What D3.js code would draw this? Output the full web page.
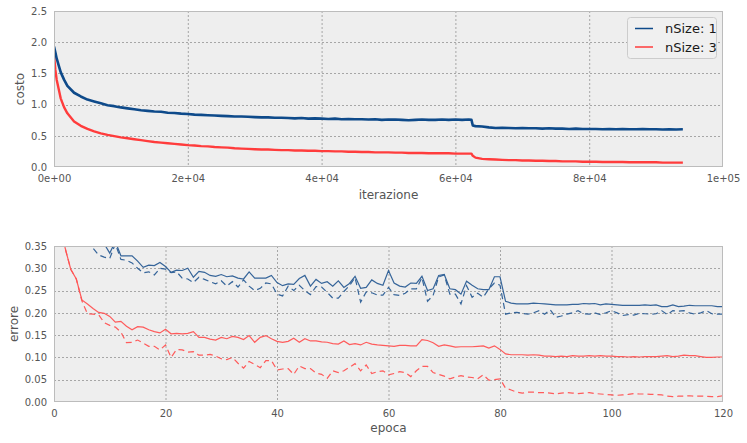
<!DOCTYPE html>
<html><head><meta charset="utf-8">
<script src="https://cdn.jsdelivr.net/npm/d3@7"></script>
<style>body{margin:0;background:#fff}svg{display:block}</style>
</head><body>
<script>
// ---------- DATA ----------
const seriesNames = ["nSize: 1", "nSize: 3"];
const topXTicks = [0, 20000, 40000, 60000, 80000, 100000];
const topXTickLabels = ["0e+00", "2e+04", "4e+04", "6e+04", "8e+04", "1e+05"];
const topYTicks = [0, 0.5, 1.0, 1.5, 2.0, 2.5];
const topYTickLabels = ["0.0", "0.5", "1.0", "1.5", "2.0", "2.5"];
const iterations = [0,200,400,700,1000,1500,2000,3000,4000,5000,6000,7000,8000,9000,10000,11000,12000,13000,14000,15000,16000,17000,18000,19000,20000,21000,22000,23000,24000,25000,26000,27000,28000,29000,30000,31000,32000,33000,34000,35000,36000,37000,38000,39000,40000,41000,42000,43000,44000,45000,46000,47000,48000,49000,50000,51000,52000,53000,54000,55000,56000,57000,58000,59000,60000,61000,62000,62400,62600,63000,64000,65000,66000,67000,68000,69000,70000,71000,72000,73000,74000,75000,76000,77000,78000,79000,80000,81000,82000,83000,84000,85000,86000,87000,88000,89000,90000,91000,92000,93000,94000];
const costN1 = [1.93,1.84,1.74,1.63,1.52,1.40,1.30,1.19,1.13,1.08,1.05,1.02,0.99,0.975,0.955,0.94,0.925,0.91,0.90,0.89,0.885,0.87,0.865,0.855,0.85,0.84,0.835,0.83,0.825,0.82,0.815,0.81,0.81,0.805,0.80,0.795,0.795,0.79,0.79,0.785,0.78,0.785,0.775,0.78,0.775,0.77,0.775,0.765,0.77,0.765,0.765,0.76,0.765,0.755,0.76,0.76,0.755,0.75,0.755,0.76,0.755,0.755,0.76,0.755,0.76,0.755,0.76,0.755,0.665,0.655,0.65,0.635,0.625,0.63,0.625,0.62,0.625,0.62,0.62,0.615,0.62,0.615,0.615,0.61,0.615,0.61,0.61,0.61,0.605,0.61,0.605,0.61,0.605,0.605,0.61,0.605,0.605,0.60,0.605,0.60,0.605];
const costN3 = [1.80,1.56,1.40,1.25,1.10,0.96,0.86,0.73,0.66,0.61,0.57,0.54,0.515,0.495,0.475,0.46,0.445,0.43,0.415,0.40,0.39,0.38,0.37,0.36,0.35,0.345,0.335,0.33,0.32,0.315,0.31,0.30,0.295,0.29,0.285,0.28,0.28,0.275,0.27,0.27,0.265,0.265,0.26,0.26,0.255,0.255,0.25,0.25,0.245,0.245,0.24,0.24,0.235,0.235,0.235,0.23,0.23,0.225,0.225,0.225,0.22,0.22,0.22,0.22,0.215,0.215,0.215,0.215,0.18,0.15,0.13,0.125,0.12,0.115,0.11,0.11,0.105,0.105,0.10,0.10,0.095,0.095,0.09,0.09,0.09,0.085,0.085,0.085,0.08,0.08,0.08,0.08,0.075,0.075,0.075,0.075,0.075,0.07,0.07,0.07,0.07];

const botXTicks = [0, 20, 40, 60, 80, 100, 120];
const botXTickLabels = ["0", "20", "40", "60", "80", "100", "120"];
const botYTicks = [0, 0.05, 0.10, 0.15, 0.20, 0.25, 0.30, 0.35];
const botYTickLabels = ["0.00", "0.05", "0.10", "0.15", "0.20", "0.25", "0.30", "0.35"];
const epochs = [0,1,2,3,4,5,6,7,8,9,10,11,12,13,14,15,16,17,18,19,20,21,22,23,24,25,26,27,28,29,30,31,32,33,34,35,36,37,38,39,40,41,42,43,44,45,46,47,48,49,50,51,52,53,54,55,56,57,58,59,60,61,62,63,64,65,66,67,68,69,70,71,72,73,74,75,76,77,78,79,80,81,82,83,84,85,86,87,88,89,90,91,92,93,94,95,96,97,98,99,100,101,102,103,104,105,106,107,108,109,110,111,112,113,114,115,116,117,118,119,120];
const errN1Solid = [0.60,0.52,0.47,0.44,0.42,0.40,0.39,0.38,0.37,0.355,0.334,0.36,0.328,0.328,0.328,0.316,0.302,0.307,0.306,0.313,0.304,0.291,0.296,0.295,0.30,0.28,0.293,0.291,0.284,0.282,0.286,0.281,0.283,0.278,0.276,0.292,0.278,0.278,0.278,0.284,0.268,0.261,0.265,0.264,0.277,0.284,0.26,0.275,0.266,0.27,0.26,0.272,0.257,0.266,0.282,0.255,0.257,0.274,0.266,0.262,0.295,0.267,0.26,0.258,0.267,0.266,0.282,0.25,0.254,0.284,0.286,0.254,0.252,0.242,0.271,0.262,0.254,0.252,0.252,0.281,0.281,0.226,0.222,0.22,0.22,0.22,0.222,0.221,0.22,0.219,0.218,0.218,0.218,0.219,0.219,0.221,0.22,0.221,0.218,0.22,0.219,0.218,0.217,0.217,0.217,0.217,0.218,0.217,0.218,0.214,0.214,0.218,0.214,0.215,0.217,0.216,0.216,0.216,0.216,0.214,0.214];
const errN1Dashed = [0.62,0.55,0.50,0.46,0.43,0.41,0.38,0.345,0.33,0.325,0.322,0.355,0.32,0.318,0.312,0.30,0.29,0.292,0.285,0.30,0.298,0.29,0.292,0.278,0.276,0.268,0.28,0.275,0.27,0.265,0.272,0.26,0.27,0.258,0.274,0.26,0.25,0.255,0.267,0.265,0.242,0.238,0.26,0.25,0.262,0.25,0.241,0.259,0.258,0.246,0.233,0.233,0.248,0.261,0.279,0.224,0.247,0.245,0.24,0.24,0.257,0.241,0.239,0.244,0.254,0.254,0.279,0.226,0.239,0.281,0.285,0.242,0.242,0.22,0.261,0.235,0.244,0.235,0.254,0.267,0.262,0.197,0.2,0.201,0.199,0.197,0.2,0.205,0.197,0.207,0.19,0.193,0.197,0.2,0.205,0.198,0.197,0.2,0.196,0.2,0.205,0.2,0.194,0.196,0.195,0.199,0.198,0.197,0.198,0.205,0.196,0.205,0.204,0.205,0.2,0.197,0.2,0.205,0.198,0.197,0.197];
const errN3Solid = [0.70,0.45,0.345,0.298,0.276,0.229,0.22,0.21,0.201,0.199,0.192,0.179,0.181,0.17,0.162,0.169,0.168,0.162,0.158,0.155,0.163,0.153,0.154,0.153,0.154,0.158,0.145,0.145,0.141,0.139,0.145,0.142,0.147,0.145,0.14,0.149,0.134,0.145,0.149,0.142,0.136,0.134,0.136,0.143,0.134,0.142,0.137,0.137,0.135,0.134,0.131,0.13,0.137,0.129,0.131,0.128,0.134,0.13,0.128,0.127,0.126,0.125,0.127,0.127,0.126,0.126,0.14,0.138,0.133,0.125,0.128,0.126,0.123,0.124,0.124,0.124,0.125,0.126,0.121,0.126,0.118,0.108,0.106,0.106,0.106,0.105,0.106,0.105,0.103,0.103,0.102,0.103,0.102,0.104,0.103,0.103,0.104,0.103,0.104,0.103,0.103,0.102,0.102,0.101,0.102,0.101,0.102,0.102,0.102,0.103,0.104,0.102,0.103,0.105,0.104,0.104,0.102,0.10,0.10,0.101,0.101];
const errN3Dashed = [0.70,0.45,0.345,0.298,0.276,0.227,0.198,0.197,0.196,0.178,0.172,0.168,0.157,0.133,0.134,0.139,0.132,0.125,0.125,0.117,0.128,0.10,0.118,0.117,0.112,0.113,0.105,0.105,0.107,0.103,0.097,0.095,0.10,0.087,0.076,0.091,0.084,0.077,0.093,0.093,0.072,0.074,0.075,0.062,0.081,0.075,0.075,0.065,0.062,0.053,0.07,0.066,0.07,0.078,0.086,0.07,0.083,0.064,0.068,0.07,0.061,0.064,0.068,0.066,0.057,0.07,0.08,0.08,0.066,0.062,0.058,0.052,0.056,0.059,0.056,0.055,0.052,0.061,0.049,0.05,0.052,0.031,0.027,0.022,0.02,0.022,0.022,0.021,0.021,0.02,0.018,0.02,0.021,0.02,0.019,0.02,0.021,0.019,0.018,0.017,0.016,0.015,0.016,0.017,0.019,0.018,0.018,0.017,0.017,0.016,0.013,0.012,0.013,0.013,0.014,0.013,0.013,0.013,0.012,0.012,0.014];

// ---------- DRAW ----------
const W = 747, H = 443;
const svg = d3.select("body").append("svg").attr("width", W).attr("height", H);
const FONT = "DejaVu Sans, sans-serif";
const blueTop = "#0e4a8a", redTop = "#ff3c3c";
const blueBot = "#2b5d95", redBot = "#ff5252";

function panel(box, xDom, yDom, xTicks, xLabels, yTicks, yLabels, id) {
  const x = d3.scaleLinear().domain(xDom).range([box.l, box.r]);
  const y = d3.scaleLinear().domain(yDom).range([box.b, box.t]);
  svg.append("rect").attr("x", box.l).attr("y", box.t).attr("width", box.r - box.l).attr("height", box.b - box.t).attr("fill", "#eeeeee");
  // grid
  const g = svg.append("g");
  g.selectAll(".gx").data(xTicks.slice(1, -1)).join("line")
    .attr("x1", d => x(d) + 0.5).attr("x2", d => x(d) + 0.5).attr("y1", box.t).attr("y2", box.b)
    .attr("stroke", "#a6a6a6").attr("stroke-dasharray", "2,2").attr("stroke-width", 1);
  g.selectAll(".gy").data(yTicks.slice(1, -1)).join("line")
    .attr("y1", d => Math.round(y(d)) + 0.5).attr("y2", d => Math.round(y(d)) + 0.5).attr("x1", box.l).attr("x2", box.r)
    .attr("stroke", "#a6a6a6").attr("stroke-dasharray", "2,2").attr("stroke-width", 1);
  // axes
  const ax = svg.append("g").attr("transform", `translate(0,${box.b})`)
    .call(d3.axisBottom(x).tickValues(xTicks).tickFormat((d, i) => xLabels[i]).tickSize(0).tickPadding(8));
  const ay = svg.append("g").attr("transform", `translate(${box.l},0)`)
    .call(d3.axisLeft(y).tickValues(yTicks).tickFormat((d, i) => yLabels[i]).tickSize(0).tickPadding(7));
  [ax, ay].forEach(a => {
    a.select(".domain").remove();
    a.selectAll("text").attr("font-family", FONT).attr("font-size", 10).attr("fill", "#555");
  });
  svg.append("defs").append("clipPath").attr("id", id).append("rect")
    .attr("x", box.l).attr("y", box.t).attr("width", box.r - box.l).attr("height", box.b - box.t);
  return {x, y};
}

function frame(box) {
  svg.append("rect").attr("x", box.l + 0.5).attr("y", box.t + 0.5).attr("width", box.r - box.l - 1).attr("height", box.b - box.t - 1)
    .attr("fill", "none").attr("stroke", "#bcbcbc").attr("stroke-width", 1);
}

// top panel
const boxT = {l: 54, r: 723, t: 11, b: 167};
const pT = panel(boxT, [0, 100000], [0, 2.5], topXTicks, topXTickLabels, topYTicks, topYTickLabels, "clipT");
const lineT = d3.line().x((d, i) => pT.x(iterations[i])).y(d => pT.y(d));
const gT = svg.append("g").attr("clip-path", "url(#clipT)");
gT.append("path").attr("d", lineT(costN3)).attr("fill", "none").attr("stroke", redTop).attr("stroke-width", 2.4).attr("stroke-linejoin", "round");
gT.append("path").attr("d", lineT(costN1)).attr("fill", "none").attr("stroke", blueTop).attr("stroke-width", 2.6).attr("stroke-linejoin", "round");
frame(boxT);

svg.append("text").attr("x", (boxT.l + boxT.r) / 2).attr("y", 199).attr("text-anchor", "middle")
  .attr("font-family", FONT).attr("font-size", 12).attr("fill", "#555").text("iterazione");
svg.append("text").attr("transform", `translate(19.5,${(boxT.t + boxT.b) / 2}) rotate(-90)`).attr("text-anchor", "middle")
  .attr("dominant-baseline", "central").attr("font-family", FONT).attr("font-size", 12).attr("fill", "#555").text("costo");

// legend
const leg = svg.append("g");
leg.append("rect").attr("x", 627.5).attr("y", 17.5).attr("width", 89).attr("height", 41).attr("rx", 3)
  .attr("fill", "#f0f0f0").attr("stroke", "#cccccc");
[blueTop, redTop].forEach((c, i) => {
  const yy = 28.5 + i * 18.5;
  leg.append("line").attr("x1", 635).attr("x2", 653).attr("y1", yy).attr("y2", yy).attr("stroke", c).attr("stroke-width", 1.5);
  leg.append("text").attr("x", 665).attr("y", yy).attr("dominant-baseline", "central")
    .attr("font-family", FONT).attr("font-size", 13).attr("fill", "#1a1a1a").text(seriesNames[i]);
});

// bottom panel
const boxB = {l: 54, r: 723, t: 246, b: 402};
const pB = panel(boxB, [0, 120], [0, 0.35], botXTicks, botXTickLabels, botYTicks, botYTickLabels, "clipB");
const lineB = d3.line().x((d, i) => pB.x(epochs[i])).y(d => pB.y(d));
const gB = svg.append("g").attr("clip-path", "url(#clipB)");
[[errN3Dashed, redBot, true], [errN3Solid, redBot, false], [errN1Dashed, blueBot, true], [errN1Solid, blueBot, false]].forEach(([s, c, dash]) => {
  gB.append("path").attr("d", lineB(s)).attr("fill", "none").attr("stroke", c).attr("stroke-width", 1.2)
    .attr("stroke-dasharray", dash ? "6,4" : null).attr("stroke-opacity", 0.95);
});
frame(boxB);

svg.append("text").attr("x", (boxB.l + boxB.r) / 2).attr("y", 432).attr("text-anchor", "middle")
  .attr("font-family", FONT).attr("font-size", 12).attr("fill", "#555").text("epoca");
svg.append("text").attr("transform", `translate(13.5,${(boxB.t + boxB.b) / 2}) rotate(-90)`).attr("text-anchor", "middle")
  .attr("dominant-baseline", "central").attr("font-family", FONT).attr("font-size", 12).attr("fill", "#555").text("errore");
</script>
</body></html>
